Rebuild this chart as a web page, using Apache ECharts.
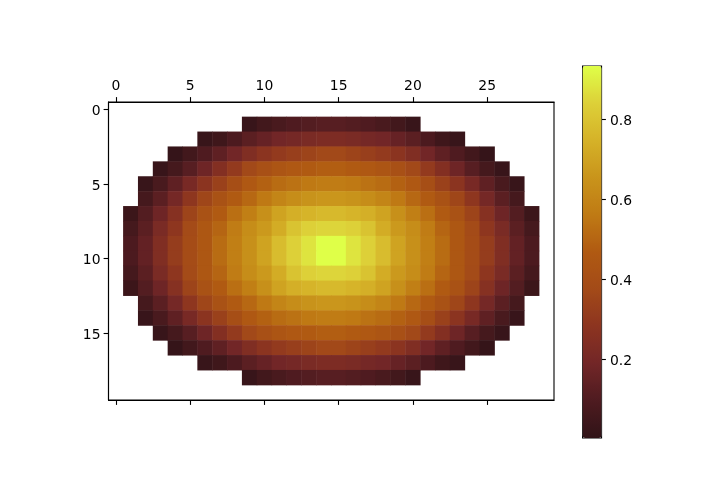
<!DOCTYPE html>
<html>
<head>
<meta charset="utf-8">
<style>html,body{margin:0;background:#fff}#main{width:720px;height:480px}</style>
<script src="https://cdn.jsdelivr.net/npm/echarts@6/dist/echarts.min.js"></script>
</head>
<body>
<div id="main"></div>
<script>
const n = null;
const xCats = ["0","1","2","3","4","5","6","7","8","9","10","11","12","13","14","15","16","17","18","19","20","21","22","23","24","25","26","27","28","29"];
const yCats = ["0","1","2","3","4","5","6","7","8","9","10","11","12","13","14","15","16","17","18","19"];
const barTicks = [0.2, 0.4, 0.6, 0.8];
const vMin = 0.004;
const vMax = 0.934;
const colourStops = ["#301317","#4e1b20","#722627","#8c3420","#a34a18","#b05a12","#bf7a14","#c9941b","#d5b228","#ddd038","#dfff48"];

const row0  = [n,n,n,n,n,n,n,n,n,n,n,n,n,n,n,n,n,n,n,n,n,n,n,n,n,n,n,n,n,n];
const row1  = [n,n,n,n,n,n,n,n,n,.03,.06,.08,.10,.11,.12,.12,.11,.10,.08,.06,.03,n,n,n,n,n,n,n,n,n];
const row2  = [n,n,n,n,n,n,.03,.05,.09,.13,.16,.19,.20,.22,.23,.23,.22,.20,.19,.16,.13,.09,.05,.03,n,n,n,n,n,n];
const row3  = [n,n,n,n,.02,.06,.10,.14,.19,.24,.28,.31,.33,.35,.37,.37,.35,.33,.31,.28,.24,.19,.14,.10,.06,.02,n,n,n,n];
const row4  = [n,n,n,.03,.07,.12,.18,.25,.31,.37,.41,.44,.46,.47,.48,.48,.47,.46,.44,.41,.37,.31,.25,.18,.12,.07,.03,n,n,n];
const row5  = [n,n,.03,.08,.14,.21,.28,.34,.40,.46,.49,.52,.54,.56,.57,.57,.56,.54,.52,.49,.46,.40,.34,.28,.21,.14,.08,.03,n,n];
const row6  = [n,n,.07,.13,.20,.29,.36,.42,.47,.51,.56,.60,.63,.65,.66,.66,.65,.63,.60,.56,.51,.47,.42,.36,.29,.20,.13,.07,n,n];
const row7  = [n,.04,.11,.18,.26,.35,.42,.47,.53,.58,.64,.70,.74,.755,.77,.77,.755,.74,.70,.64,.58,.53,.47,.42,.35,.26,.18,.11,.04,n];
const row8  = [n,.07,.13,.22,.29,.38,.45,.50,.57,.63,.67,.73,.80,.84,.85,.85,.84,.80,.73,.67,.63,.57,.50,.45,.38,.29,.22,.13,.07,n];
const row9  = [n,.09,.15,.24,.32,.39,.45,.52,.58,.64,.70,.78,.84,.88,.934,.934,.88,.84,.78,.70,.64,.58,.52,.45,.39,.32,.24,.15,.09,n];
const row10 = [n,.09,.15,.24,.32,.39,.45,.52,.58,.64,.70,.78,.84,.88,.934,.934,.88,.84,.78,.70,.64,.58,.52,.45,.39,.32,.24,.15,.09,n];
const row11 = [n,.07,.13,.22,.29,.38,.45,.50,.57,.63,.67,.73,.80,.84,.85,.85,.84,.80,.73,.67,.63,.57,.50,.45,.38,.29,.22,.13,.07,n];
const row12 = [n,.04,.11,.18,.26,.35,.42,.47,.53,.58,.64,.70,.74,.755,.77,.77,.755,.74,.70,.64,.58,.53,.47,.42,.35,.26,.18,.11,.04,n];
const row13 = [n,n,.07,.13,.20,.29,.36,.42,.47,.51,.56,.60,.63,.65,.66,.66,.65,.63,.60,.56,.51,.47,.42,.36,.29,.20,.13,.07,n,n];
const row14 = [n,n,.03,.08,.14,.21,.28,.34,.40,.46,.49,.52,.54,.56,.57,.57,.56,.54,.52,.49,.46,.40,.34,.28,.21,.14,.08,.03,n,n];
const row15 = [n,n,n,.03,.07,.12,.18,.25,.31,.37,.41,.44,.46,.47,.48,.48,.47,.46,.44,.41,.37,.31,.25,.18,.12,.07,.03,n,n,n];
const row16 = [n,n,n,n,.02,.06,.10,.14,.19,.24,.28,.31,.33,.35,.37,.37,.35,.33,.31,.28,.24,.19,.14,.10,.06,.02,n,n,n,n];
const row17 = [n,n,n,n,n,n,.03,.05,.09,.13,.16,.19,.20,.22,.23,.23,.22,.20,.19,.16,.13,.09,.05,.03,n,n,n,n,n,n];
const row18 = [n,n,n,n,n,n,n,n,n,.03,.06,.08,.10,.11,.12,.12,.11,.10,.08,.06,.03,n,n,n,n,n,n,n,n,n];
const row19 = [n,n,n,n,n,n,n,n,n,n,n,n,n,n,n,n,n,n,n,n,n,n,n,n,n,n,n,n,n,n];
const rows = [row0,row1,row2,row3,row4,row5,row6,row7,row8,row9,row10,row11,row12,row13,row14,row15,row16,row17,row18,row19];

const cells = [];
rows.forEach((row, y) => {
  row.forEach((v, x) => {
    if (v !== null) cells.push([x, y, v]);
  });
});

const every5 = (i) => i % 5 === 0;
const font = { fontFamily: "DejaVu Sans", fontSize: 13.9, color: "#000" };
const axisLine = { show: true, onZero: false, lineStyle: { color: "#000", width: 1.1 } };
const tick = { show: true, length: 4.9, lineStyle: { color: "#000", width: 1.1 } };
// small line height with top align pushes the labels down to sit level with their ticks
const levelLabel = { verticalAlign: "top", lineHeight: 4 };

const chart = echarts.init(document.getElementById("main"));
chart.setOption({
  animation: false,
  backgroundColor: "#fff",
  textStyle: { fontFamily: "DejaVu Sans" },
  grid: [
    { left: 108.5, top: 102, width: 445.5, height: 298, show: true, borderColor: "#000", borderWidth: 1.1, backgroundColor: "#fff" },
    { left: 582, top: 65.5, width: 19, height: 372 }
  ],
  xAxis: [
    {
      type: "category", gridIndex: 0, position: "top", data: xCats,
      axisLine: axisLine,
      axisTick: Object.assign({ alignWithLabel: true, interval: every5 }, tick),
      axisLabel: Object.assign({ interval: every5, margin: 9 }, font),
      splitLine: { show: false }
    },
    {
      type: "category", gridIndex: 0, position: "bottom", data: xCats,
      axisLine: axisLine,
      axisTick: Object.assign({ alignWithLabel: true, interval: every5 }, tick),
      axisLabel: { show: false },
      splitLine: { show: false }
    },
    { type: "category", gridIndex: 1, data: ["0"], show: false }
  ],
  yAxis: [
    {
      type: "category", gridIndex: 0, inverse: true, data: yCats,
      axisLine: axisLine,
      axisTick: Object.assign({ alignWithLabel: true, interval: every5 }, tick),
      axisLabel: Object.assign({ interval: every5, margin: 8 }, font, levelLabel),
      splitLine: { show: false }
    },
    {
      type: "value", gridIndex: 1, position: "right", min: vMin, max: vMax,
      axisLine: { show: false },
      axisTick: Object.assign({ customValues: barTicks }, tick),
      axisLabel: Object.assign({ customValues: barTicks, margin: 9, formatter: (v) => v.toFixed(1) }, font, levelLabel),
      splitLine: { show: false }
    }
  ],
  visualMap: {
    type: "continuous",
    min: vMin, max: vMax,
    seriesIndex: 0,
    left: 582, top: 65.5,
    itemWidth: 19, itemHeight: 372,
    padding: 0,
    borderColor: "#000", borderWidth: 1.1,
    calculable: false, hoverLink: false, showLabel: false,
    text: null,
    inRange: { color: colourStops }
  },
  series: [
    {
      type: "heatmap", xAxisIndex: 0, yAxisIndex: 0, data: cells,
      progressive: 0, emphasis: { disabled: true }, silent: true
    }
  ]
});
</script>
</body>
</html>
